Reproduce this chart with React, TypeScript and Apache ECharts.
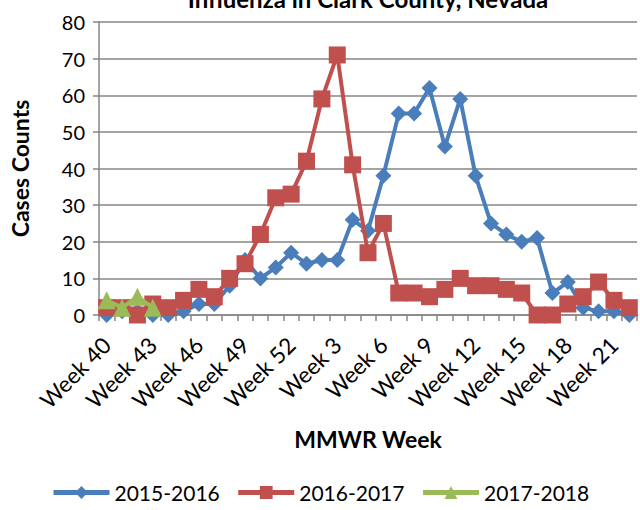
import React, { useEffect, useRef } from "react";
import * as echarts from "echarts";

const weeks: string[] = [
  "Week 40", "Week 41", "Week 42", "Week 43", "Week 44", "Week 45", "Week 46", "Week 47",
  "Week 48", "Week 49", "Week 50", "Week 51", "Week 52", "Week 1", "Week 2", "Week 3",
  "Week 4", "Week 5", "Week 6", "Week 7", "Week 8", "Week 9", "Week 10", "Week 11",
  "Week 12", "Week 13", "Week 14", "Week 15", "Week 16", "Week 17", "Week 18", "Week 19",
  "Week 20", "Week 21", "Week 22",
];

const s2015: number[] = [
  0, 1, 1, 0, 0, 1, 3, 3, 8, 15, 10, 13, 17, 14, 15, 15,
  26, 23, 38, 55, 55, 62, 46, 59, 38, 25, 22, 20, 21, 6, 9, 2,
  1, 1, 0,
];

const s2016: number[] = [
  2, 2, 0, 3, 2, 4, 7, 5, 10, 14, 22, 32, 33, 42, 59, 71,
  41, 17, 25, 6, 6, 5, 7, 10, 8, 8, 7, 6, 0, 0, 3, 5,
  9, 4, 2,
];

const s2017: number[] = [4, 2, 5, 2];

const yTicks = { min: 0, max: 80, interval: 10 };

const FONT = "Lato, 'Open Sans', sans-serif";

export default function App() {
  const ref = useRef<HTMLDivElement>(null);
  useEffect(() => {
    if (!ref.current) return;
    const chart = echarts.init(ref.current, undefined, { renderer: "svg" });
    chart.setOption({
      animation: false,
      backgroundColor: "#ffffff",
      textStyle: { fontFamily: FONT, color: "#000" },
      title: {
        text: "Influenza in Clark County, Nevada",
        left: 363,
        textAlign: "center",
        top: -19,
        textStyle: { fontFamily: FONT, fontSize: 24, fontWeight: "bold", color: "#000" },
      },
      grid: { left: 98, right: 3, top: 22, bottom: 195 },
      legend: {
        left: 46,
        bottom: 2,
        itemWidth: 56,
        itemHeight: 16,
        itemGap: 16,
        lineStyle: { width: 5 },
        textStyle: { fontFamily: FONT, fontSize: 21, color: "#000" },
        data: ["2015-2016", "2016-2017", "2017-2018"],
      },
      xAxis: {
        type: "category",
        data: weeks,
        boundaryGap: true,
        name: "MMWR Week",
        nameLocation: "middle",
        nameGap: 112,
        nameTextStyle: { fontFamily: FONT, fontSize: 23, fontWeight: "bold", color: "#000" },
        axisLine: { show: true, lineStyle: { color: "#868686", width: 1.5 } },
        axisTick: { show: true, interval: 0, length: 6, lineStyle: { color: "#868686", width: 1.5 } },
        axisLabel: {
          interval: 2,
          rotate: 45,
          fontFamily: FONT,
          fontSize: 22.5,
          color: "#000",
          margin: 26,
        },
        splitLine: { show: false },
      },
      yAxis: {
        type: "value",
        min: yTicks.min,
        max: yTicks.max,
        interval: yTicks.interval,
        name: "Cases Counts",
        nameLocation: "middle",
        nameGap: 68,
        nameRotate: 90,
        nameTextStyle: { fontFamily: FONT, fontSize: 23, fontWeight: "bold", color: "#000" },
        axisLine: { show: true, lineStyle: { color: "#868686", width: 1.5 } },
        axisTick: { show: true, length: 6, lineStyle: { color: "#868686", width: 1.5 } },
        axisLabel: { fontFamily: FONT, fontSize: 20, color: "#000", margin: 14 },
        splitLine: { show: true, lineStyle: { color: "#868686", width: 1.5 } },
      },
      series: [
        {
          name: "2015-2016",
          type: "line",
          data: s2015,
          symbol: "diamond",
          symbolSize: 16,
          showSymbol: true,
          showAllSymbol: true,
          itemStyle: { color: "#4A7EBB" },
          lineStyle: { color: "#4A7EBB", width: 4 },
          z: 2,
        },
        {
          name: "2016-2017",
          type: "line",
          data: s2016,
          symbol: "rect",
          symbolSize: 17,
          showSymbol: true,
          showAllSymbol: true,
          itemStyle: { color: "#C0504D" },
          lineStyle: { color: "#C0504D", width: 4 },
          z: 3,
        },
        {
          name: "2017-2018",
          type: "line",
          data: s2017,
          symbol: "triangle",
          symbolSize: 18,
          showSymbol: true,
          showAllSymbol: true,
          itemStyle: { color: "#9BBB59" },
          lineStyle: { color: "#9BBB59", width: 4 },
          z: 4,
        },
      ],
    });
    return () => chart.dispose();
  }, []);
  return <div ref={ref} style={{ width: 640, height: 510, position: "absolute", left: 0, top: 0 }} />;
}
